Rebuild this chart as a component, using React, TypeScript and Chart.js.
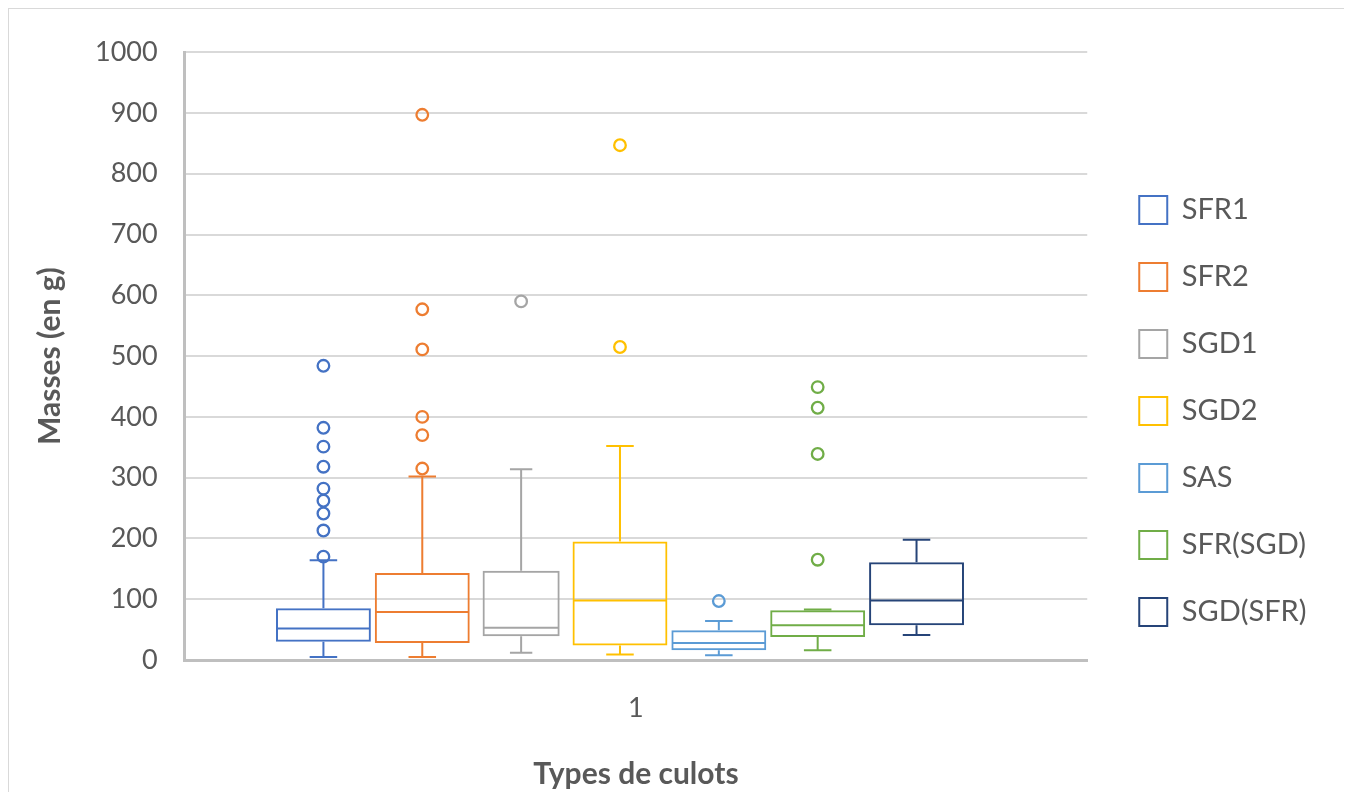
import React, { useEffect, useRef } from 'react';
import { Chart, registerables } from 'chart.js';

Chart.register(...registerables);

// ---- data ----
const categories = ['1'];
const seriesNames = ['SFR1', 'SFR2', 'SGD1', 'SGD2', 'SAS', 'SFR(SGD)', 'SGD(SFR)'];
const seriesColors = ['#4472C4', '#ED7D31', '#A5A5A5', '#FFC000', '#5B9BD5', '#70AD47', '#264478'];
const whiskerLow = [5, 5, 12, 9, 8, 16, 41];
const quartile1 = [30, 28, 39, 24, 16, 38, 57];
const medians = [52, 79, 53, 98, 28, 57, 98];
const quartile3 = [85, 143, 147, 195, 49, 82, 161];
const whiskerHigh = [164, 302, 314, 352, 64, 83, 198];
const outliers = [
  [484, 382, 351, 318, 282, 262, 241, 213, 170],
  [897, 577, 511, 400, 370, 315],
  [590],
  [847, 515],
  [97],
  [449, 415, 339, 165],
  [],
];
const yMin = 0;
const yMax = 1000;
const yStep = 100;
// series slots along the single category (slot index = series index)
const slotMin = -1.404;
const slotMax = 7.727;
const xTitle = 'Types de culots';
const yTitle = 'Masses (en g)';

const FONT = 'Lato, "Open Sans", sans-serif';
const TEXT = '#595959';

const boxPlugin = {
  id: 'boxWhisker',
  afterDatasetsDraw(chart: any) {
    const { ctx } = chart;
    const ys = chart.scales.y;
    chart.data.datasets.forEach((ds: any, i: number) => {
      const meta = chart.getDatasetMeta(i);
      if (meta.hidden) return;
      meta.data.forEach((bar: any) => {
        const { x, width } = bar.getProps(['x', 'width'], true);
        const st = ds.stats;
        const half = width / 2;
        const cap = (width * 0.29) / 2;
        const py = (v: number) => ys.getPixelForValue(v);
        ctx.save();
        ctx.strokeStyle = ds.borderColor;
        ctx.lineWidth = 2;
        ctx.beginPath();
        ctx.moveTo(x - half + 1, py(st.med));
        ctx.lineTo(x + half - 1, py(st.med));
        ctx.moveTo(x, py(st.q3));
        ctx.lineTo(x, py(st.max));
        ctx.moveTo(x - cap, py(st.max));
        ctx.lineTo(x + cap, py(st.max));
        ctx.moveTo(x, py(st.q1));
        ctx.lineTo(x, py(st.min));
        ctx.moveTo(x - cap, py(st.min));
        ctx.lineTo(x + cap, py(st.min));
        ctx.stroke();
        ctx.lineWidth = 2.3;
        st.out.forEach((o: number) => {
          ctx.beginPath();
          ctx.arc(x, py(o), 5.8, 0, Math.PI * 2);
          ctx.stroke();
        });
        ctx.restore();
      });
    });
  },
};

export default function App() {
  const ref = useRef<HTMLCanvasElement>(null);
  useEffect(() => {
    if (!ref.current) return;
    const datasets = seriesNames.map((name, i) => ({
      label: name,
      data: [{ x: i, y: [quartile1[i], quartile3[i]] }],
      stats: {
        min: whiskerLow[i],
        q1: quartile1[i],
        med: medians[i],
        q3: quartile3[i],
        max: whiskerHigh[i],
        out: outliers[i],
      },
      yAxisID: 'y',
      xAxisID: 'x',
      grouped: false,
      backgroundColor: 'rgba(255,255,255,0)',
      borderColor: seriesColors[i],
      borderWidth: 2,
      borderSkipped: false,
      categoryPercentage: 1,
      barPercentage: name === 'SGD1' ? 0.78 : 0.96,
    }));
    const chart = new Chart(ref.current, {
      type: 'bar',
      data: { datasets: datasets as any },
      plugins: [boxPlugin],
      options: {
        animation: false,
        responsive: false,
        layout: { padding: { top: 21, left: 13, right: 30.5, bottom: 0 } },
        plugins: {
          title: { display: true, text: '', padding: 0, font: { size: 10, lineHeight: '20px' } as any },
          legend: {
            position: 'right',
            labels: {
              boxWidth: 28,
              boxHeight: 28,
              padding: 38,
              color: TEXT,
              font: { family: FONT, size: 29 },
            },
          },
          tooltip: { enabled: false },
        },
        scales: {
          x: {
            type: 'linear',
            min: slotMin,
            max: slotMax,
            offset: false,
            afterBuildTicks: (s: any) => {
              s.ticks = [{ value: (s.min + s.max) / 2 }];
            },
            grid: { display: false, drawTicks: false, offset: false },
            border: { display: true, color: '#BFBFBF', width: 3 },
            ticks: {
              color: TEXT,
              font: { family: FONT, size: 27 },
              padding: 31.8,
              callback: () => categories[0],
            },
            title: {
              display: true,
              text: xTitle,
              color: TEXT,
              font: { family: FONT, size: 30, weight: 'bold' },
              padding: { top: 0, bottom: 0 },
            },
          },
          y: {
            min: yMin,
            max: yMax,
            ticks: {
              stepSize: yStep,
              padding: 27,
              color: TEXT,
              font: { family: FONT, size: 27 },
              callback: (v: any) => String(v),
            },
            grid: { color: '#D9D9D9', lineWidth: 2, drawTicks: false },
            border: { display: true, color: '#BFBFBF', width: 3 },
            title: {
              display: true,
              text: yTitle,
              color: TEXT,
              font: { family: FONT, size: 30, weight: 'bold' },
              padding: { top: 10, bottom: 0 },
            },
          },
          yR: {
            position: 'right',
            display: true,
            grid: { display: false, drawTicks: false },
            border: { display: false },
            ticks: { display: false },
            afterFit: (s: any) => {
              s.width = 14;
            },
          },
        },
      } as any,
    });
    return () => chart.destroy();
  }, []);
  return (
    <div
      style={{
        width: 1338,
        height: 783,
        borderTop: '1px solid #d9d9d9',
        borderLeft: '1px solid #d9d9d9',
        borderRight: '1px solid #d9d9d9',
        background: '#fff',
      }}
    >
      <canvas ref={ref} width={1338} height={783} style={{ display: 'block' }} />
    </div>
  );
}
